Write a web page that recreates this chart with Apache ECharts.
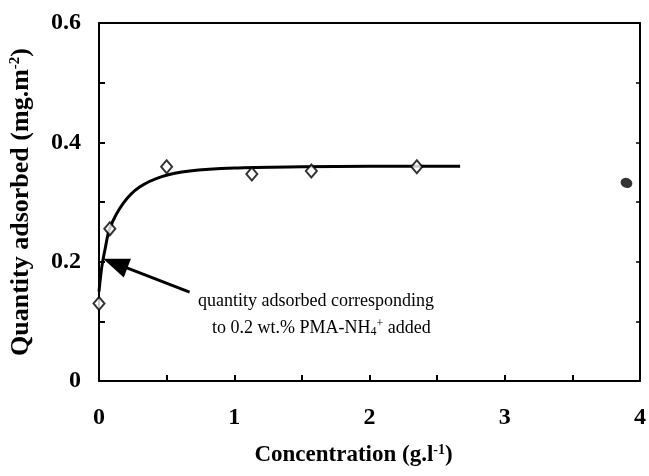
<!DOCTYPE html>
<html>
<head>
<meta charset="utf-8">
<script src="https://cdn.jsdelivr.net/npm/echarts@6/dist/echarts.min.js"></script>
<style>
  html, body { margin: 0; padding: 0; background: #fff; }
  #chart { width: 649px; height: 476px; }
</style>
</head>
<body>
<div id="chart"></div>
<script>
// measured points (open diamonds)
const measuredX = [0, 0.08, 0.5, 1.13, 1.57, 2.35]
const measuredY = [0.13, 0.255, 0.359, 0.347, 0.352, 0.359]

// isolated filled point on the right
const extraX = [3.9]
const extraY = [0.332]

// fitted curve
const curveX = [0, 0.02, 0.044, 0.08, 0.18, 0.3, 0.47, 0.67, 1.0, 1.5, 2.0, 2.67]
const curveY = [0.15, 0.19, 0.22, 0.256, 0.298, 0.325, 0.343, 0.352, 0.357, 0.359, 0.36, 0.36]

const yTicks = [0, 0.2, 0.4, 0.6]
const xTicks = [0, 1, 2, 3, 4]

const serif = '"Liberation Serif", "DejaVu Serif", serif'
const zip = (a, b) => a.map((v, i) => [v, b[i]])

const chart = echarts.init(document.getElementById('chart'))

const tickLabel = {
  fontFamily: serif,
  fontWeight: 'bold',
  fontSize: 24,
  color: '#000'
}

const frameLine = { show: true, onZero: false, lineStyle: { color: '#000', width: 2 } }

const option = {
  animation: false,
  grid: { left: 99, right: 6, top: 23, bottom: 95 },
  xAxis: [
    {
      type: 'value',
      min: 0,
      max: 4,
      interval: 0.5,
      axisLine: frameLine,
      axisTick: { show: true, inside: true, length: 6, lineStyle: { color: '#000', width: 2 } },
      splitLine: { show: false },
      axisLabel: Object.assign({}, tickLabel, {
        margin: 25,
        formatter: v => (xTicks.includes(v) ? String(v) : '')
      }),
      name: '{a|Concentration (g.l}{s|-1}{a|)}',
      nameLocation: 'middle',
      nameGap: 62,
      nameTextStyle: {
        padding: [0, 32, 0, 0],
        rich: {
          a: { fontFamily: serif, fontWeight: 'bold', fontSize: 23, color: '#000' },
          s: { fontFamily: serif, fontWeight: 'bold', fontSize: 14, color: '#000', verticalAlign: 'top', padding: [0, 0, 10, 0] }
        }
      }
    },
    {
      type: 'value',
      position: 'top',
      min: 0,
      max: 4,
      axisLine: frameLine,
      axisTick: { show: false },
      axisLabel: { show: false },
      splitLine: { show: false }
    }
  ],
  yAxis: [
    {
      type: 'value',
      min: 0,
      max: 0.6,
      interval: 0.1,
      axisLine: frameLine,
      axisTick: { show: true, inside: true, length: 6, lineStyle: { color: '#000', width: 2 } },
      splitLine: { show: false },
      axisLabel: Object.assign({}, tickLabel, {
        margin: 18,
        formatter: v => {
          const r = Math.round(v * 10) / 10
          if (!yTicks.some(t => Math.abs(t - r) < 1e-9)) return ''
          return r === 0 ? '0' : r.toFixed(1)
        }
      }),
      name: '{a|Quantity adsorbed (mg.m}{s|-2}{a|)}',
      nameLocation: 'middle',
      nameRotate: 90,
      nameGap: 64,
      nameTextStyle: {
        rich: {
          a: { fontFamily: serif, fontWeight: 'bold', fontSize: 26, color: '#000' },
          s: { fontFamily: serif, fontWeight: 'bold', fontSize: 15, color: '#000', verticalAlign: 'top', padding: [0, 0, 12, 0] }
        }
      }
    },
    {
      type: 'value',
      position: 'right',
      min: 0,
      max: 0.6,
      interval: 0.1,
      axisLine: frameLine,
      axisTick: { show: true, inside: true, length: 4, lineStyle: { color: '#000', width: 1.5 } },
      axisLabel: { show: false },
      splitLine: { show: false }
    }
  ],
  series: [
    {
      name: 'fit',
      type: 'line',
      data: zip(curveX, curveY),
      smooth: 0.3,
      showSymbol: false,
      lineStyle: { color: '#000', width: 3 },
      z: 2,
      // arrow pointing at the curve near 0.2
      markLine: {
        silent: true,
        symbol: ['none', 'triangle'],
        symbolSize: [20, 26],
        label: { show: false },
        lineStyle: { color: '#000', width: 3, type: 'solid' },
        data: [[{ coord: [0.67, 0.149] }, { coord: [0.12, 0.197] }]]
      }
    },
    {
      name: 'measured',
      type: 'scatter',
      data: zip(measuredX, measuredY),
      symbol: 'diamond',
      symbolSize: [11, 13],
      itemStyle: { color: '#fff', borderColor: '#000', borderWidth: 2 },
      z: 3
    },
    {
      name: 'extra',
      type: 'scatter',
      data: zip(extraX, extraY),
      symbol: 'circle',
      symbolSize: [12, 10],
      symbolRotate: -20,
      itemStyle: { color: '#000' },
      z: 3
    }
  ],
  graphic: [
    {
      type: 'text',
      left: 198,
      top: 292,
      style: {
        text: 'quantity adsorbed corresponding',
        font: '18px ' + serif,
        fill: '#000'
      }
    },
    {
      type: 'text',
      left: 212,
      top: 318,
      style: {
        text: '{a|to 0.2 wt.% PMA-NH}{b|4}{c|+}{a| added}',
        rich: {
          a: { fontFamily: serif, fontSize: 18, color: '#000' },
          b: { fontFamily: serif, fontSize: 12, color: '#000', verticalAlign: 'bottom', padding: [8, 0, 0, 0] },
          c: { fontFamily: serif, fontSize: 12, color: '#000', verticalAlign: 'top', padding: [0, 0, 8, 0] }
        }
      }
    }
  ]
}

chart.setOption(option)
</script>
</body>
</html>
